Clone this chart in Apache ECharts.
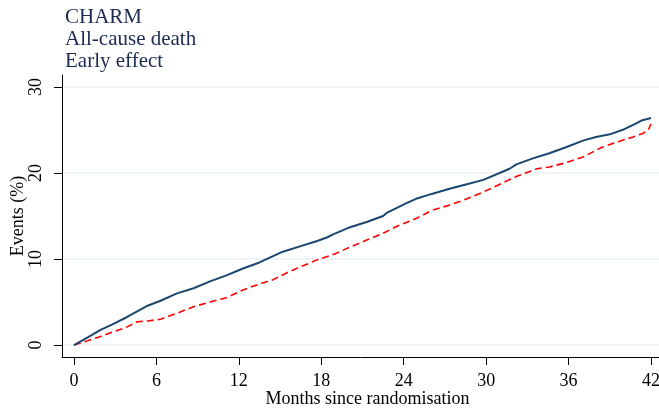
<!DOCTYPE html>
<html>
<head>
<meta charset="utf-8">
<title>CHARM – All-cause death</title>
<script src="https://cdn.jsdelivr.net/npm/echarts@6/dist/echarts.min.js"></script>
<style>
  html, body { margin: 0; padding: 0; background: #fff; }
  #chart { width: 659px; height: 413px; }
</style>
</head>
<body>
<div id="chart"></div>
<script>
// Cumulative event curves (% of patients), months since randomisation
const titleLines = ['CHARM', 'All-cause death', 'Early effect'];
const xTicks = [0, 6, 12, 18, 24, 30, 36, 42];
const yTicks = [0, 10, 20, 30];

// Solid curve (placebo)
const solidMonths = [0, 1.0, 1.9, 2.8, 3.8, 4.6, 5.4, 6.3, 7.5, 8.7, 9.9, 11.1, 12.3, 13.5, 15.2, 16.5, 17.7, 18.4, 18.9, 20.1, 21.3, 22.5, 22.8, 24.2, 24.9, 26.1, 27.4, 28.6, 29.8, 31.7, 32.2, 33.4, 34.6, 35.8, 37.1, 38.0, 39.0, 39.9, 40.7, 41.3, 42.0];
const solidValues = [0, 0.9, 1.74, 2.4, 3.2, 3.9, 4.6, 5.15, 6.0, 6.6, 7.4, 8.1, 8.9, 9.6, 10.85, 11.5, 12.1, 12.5, 12.9, 13.7, 14.3, 15.0, 15.4, 16.5, 17.0, 17.6, 18.2, 18.7, 19.2, 20.5, 21.0, 21.7, 22.3, 23.0, 23.8, 24.2, 24.5, 25.0, 25.6, 26.1, 26.4];

// Dashed curve (candesartan)
const dashedMonths = [0, 1.0, 1.9, 2.8, 3.8, 4.6, 5.4, 6.3, 7.5, 8.7, 9.9, 11.1, 12.3, 13.5, 14.5, 15.5, 16.2, 17.7, 19.0, 20.1, 21.3, 22.5, 23.7, 24.9, 26.1, 27.4, 28.6, 29.8, 31.0, 32.2, 33.7, 34.6, 35.8, 37.1, 38.3, 39.5, 40.7, 41.4, 41.8, 42.0];
const dashedValues = [0, 0.5, 0.97, 1.5, 2.05, 2.7, 2.8, 3.0, 3.7, 4.45, 5.0, 5.5, 6.4, 7.1, 7.6, 8.4, 8.9, 9.9, 10.6, 11.4, 12.2, 13.0, 13.95, 14.7, 15.7, 16.3, 17.0, 17.8, 18.7, 19.6, 20.5, 20.7, 21.2, 21.9, 22.9, 23.6, 24.2, 24.6, 25.0, 25.7];

const pairs = (xs, ys) => xs.map((x, i) => [x, ys[i]]);

const serif = '"Liberation Serif", "DejaVu Serif", serif';
const chart = echarts.init(document.getElementById('chart'), null, { renderer: 'canvas' });

chart.setOption({
  animation: false,
  backgroundColor: '#ffffff',
  title: {
    text: titleLines.join('\n'),
    left: 65,
    top: 6,
    padding: 0,
    textStyle: {
      fontFamily: serif,
      fontSize: 21,
      fontWeight: 'normal',
      lineHeight: 22,
      color: '#1c2b55'
    }
  },
  grid: { left: 62, right: 0, top: 75, bottom: 56, containLabel: false, outerBoundsMode: 'none' },
  xAxis: {
    type: 'value',
    min: -0.873,
    max: 42.58,
    name: 'Months since randomisation',
    nameLocation: 'middle',
    nameGap: 33,
    nameMoveOverlap: false,
    nameTextStyle: { fontFamily: serif, fontSize: 18, color: '#000', padding: [0, 0, 0, 14] },
    axisLine: { show: true, onZero: false, lineStyle: { color: '#000', width: 1 } },
    axisTick: { show: true, length: 8, inside: false, customValues: xTicks, lineStyle: { color: '#000' } },
    axisLabel: { customValues: xTicks, fontFamily: serif, fontSize: 18, color: '#000', margin: 15 },
    splitLine: { show: false }
  },
  yAxis: {
    type: 'value',
    min: -1.395,
    max: 31.4,
    name: 'Events (%)',
    nameLocation: 'middle',
    nameGap: 35,
    nameMoveOverlap: false,
    nameTextStyle: { fontFamily: serif, fontSize: 18, color: '#000' },
    axisLine: { show: true, onZero: false, lineStyle: { color: '#000', width: 1 } },
    axisTick: { show: true, length: 8, inside: false, customValues: yTicks, lineStyle: { color: '#000' } },
    axisLabel: { customValues: yTicks, rotate: 90, fontFamily: serif, fontSize: 18, color: '#000', margin: 17 },
    splitLine: { show: true, lineStyle: { color: '#eaf2f3', width: 1.5 } }
  },
  series: [
    {
      name: 'Placebo',
      type: 'line',
      data: pairs(solidMonths, solidValues),
      showSymbol: false,
      lineStyle: { color: '#1a476f', width: 2 },
      z: 3
    },
    {
      name: 'Candesartan',
      type: 'line',
      data: pairs(dashedMonths, dashedValues),
      showSymbol: false,
      lineStyle: { color: '#ff0000', width: 1.6, type: [7, 4] },
      z: 2
    }
  ]
});
</script>
</body>
</html>
